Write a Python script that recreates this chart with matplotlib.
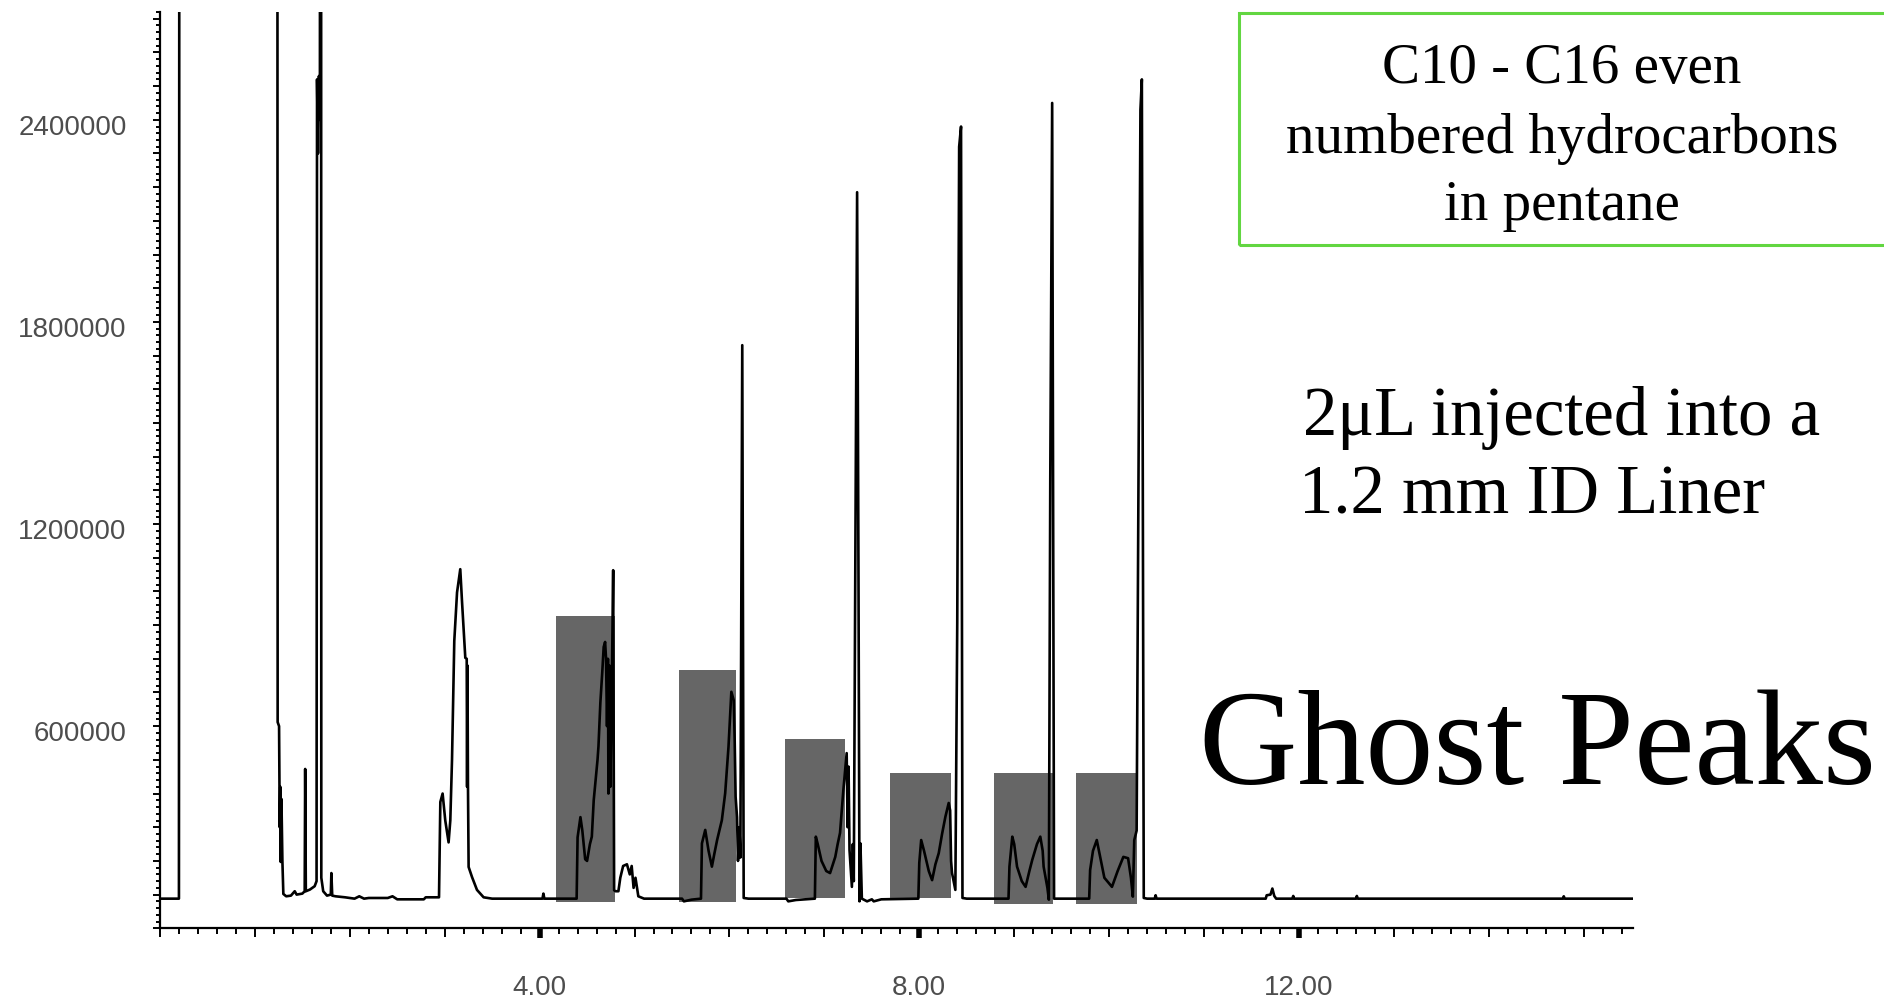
import numpy as np
import matplotlib.pyplot as plt
import matplotlib.ticker as ticker
import matplotlib.transforms as transforms
from matplotlib.patches import Rectangle

plt.rcParams['font.family'] = ['Liberation Sans', 'DejaVu Sans']

# retention time (min) of the detector trace
time = [0, 0.20, 0.21, 1.233, 1.24, 1.255, 1.262, 1.268, 1.272, 1.28, 1.29, 1.30,
        1.33, 1.38, 1.42, 1.44, 1.50, 1.525, 1.53, 1.537, 1.58, 1.63, 1.65, 1.655, 1.665, 1.675, 1.685,
        1.695, 1.70, 1.72, 1.76, 1.80, 1.806, 1.815, 1.85, 1.95, 2.05, 2.10, 2.15, 2.20, 2.40, 2.45,
        2.50, 2.78, 2.80, 2.94,
        2.954, 2.978, 3.006, 3.041, 3.059, 3.077, 3.101, 3.130, 3.164, 3.182, 3.217, 3.232, 3.236,
        3.240, 3.245, 3.252, 3.288, 3.340, 3.410, 3.5, 4.03, 4.04, 4.05,
        4.39, 4.40, 4.43, 4.45, 4.48, 4.50, 4.53, 4.55, 4.57, 4.59, 4.61, 4.62, 4.64, 4.66, 4.675,
        4.69, 4.70, 4.71, 4.72, 4.725, 4.735, 4.745, 4.76, 4.775, 4.785, 4.80, 4.83, 4.85, 4.88, 4.92,
        4.95, 4.97, 4.99, 5.01, 5.04, 5.10,
        5.50, 5.52, 5.60, 5.70, 5.71, 5.745, 5.78, 5.815, 5.84, 5.87, 5.92, 5.955, 5.99, 6.02, 6.045,
        6.055, 6.065, 6.08, 6.09, 6.105, 6.115, 6.125, 6.135, 6.15, 6.2,
        6.60, 6.62, 6.70, 6.90, 6.91, 6.93, 6.97, 7.02, 7.06, 7.09, 7.115, 7.14, 7.165, 7.20, 7.235,
        7.245, 7.255, 7.265, 7.29, 7.30, 7.31, 7.325, 7.345, 7.36, 7.37, 7.38, 7.395, 7.45, 7.50, 7.52,
        7.60, 7.99, 8.00, 8.02, 8.05, 8.10, 8.135, 8.17, 8.205, 8.24, 8.275, 8.31, 8.325, 8.335, 8.345,
        8.38, 8.40, 8.42, 8.44, 8.455, 8.50,
        8.94, 8.95, 8.98, 9.00, 9.03, 9.08, 9.12, 9.16, 9.19, 9.24, 9.275, 9.30, 9.31, 9.35, 9.365,
        9.38, 9.40, 9.42, 9.50,
        9.79, 9.80, 9.83, 9.87, 9.90, 9.95, 10.03, 10.09, 10.15, 10.20, 10.23, 10.25, 10.265, 10.29,
        10.31, 10.33, 10.345, 10.365, 10.40,
        10.48, 10.49, 10.50, 11.65, 11.66, 11.70, 11.72, 11.74, 11.76, 11.93, 11.94, 11.95, 12.60,
        12.61, 12.62, 14.78, 14.79, 14.80, 15.52]

# abundance (counts)
abundance = [88000, 88000, 8e6, 8e6, 612000, 600000, 300000, 420000, 197000, 384000, 200000, 102000,
             95000, 97000, 110000, 100000, 103000, 110000, 473000, 110000, 115000, 125000, 140000, 2520000,
             2300000, 2530000, 2400000,
             8e6, 150000, 110000, 97000, 100000, 164000, 97000, 95000, 92000, 88000, 95000, 88000, 90000,
             90000, 95000, 86000, 86000, 92000, 92000,
             375000, 400000, 320000, 255000, 320000, 500000, 853000, 997000, 1066000, 972000, 803000,
             800000, 420000, 780000, 430000, 182000, 152000, 114000, 92000, 88000, 88000, 103000, 88000,
             88000, 270000, 330000, 290000, 205000, 200000, 250000, 272000, 380000, 440000, 500000, 540000,
             670000, 760000, 835000, 850000, 800000, 600000, 800000, 400000, 780000, 420000, 700000,
             1063000, 113000, 110000, 110000, 150000, 185000, 190000, 160000, 185000, 120000, 150000,
             95000, 88000,
             88000, 80000, 85000, 88000, 252000, 292000, 230000, 183000, 220000, 262000, 321000, 401000,
             539000, 702000, 677000, 560000, 390000, 330000, 200000, 300000, 210000, 953000, 1731000,
             90000, 88000,
             88000, 80000, 84000, 88000, 272000, 250000, 200000, 170000, 164000, 190000, 212000, 250000,
             283000, 410000, 520000, 300000, 480000, 232000, 123000, 250000, 140000, 1042000, 2185000,
             1000000, 80000, 252000, 88000, 80000, 86000, 80000,
             86000, 88000, 194000, 262000, 230000, 170000, 143000, 190000, 223000, 280000, 331000, 372000,
             350000, 200000, 164000, 114000, 906000, 2320000, 2380000, 90000, 88000,
             88000, 183000, 272000, 250000, 183000, 140000, 123000, 170000, 203000, 250000, 272000, 230000,
             183000, 120000, 85000, 1330000, 2450000, 88000, 88000,
             88000, 173000, 230000, 262000, 220000, 150000, 123000, 170000, 212000, 208000, 150000, 94000,
             262000, 290000, 1330000, 2430000, 2520000, 90000, 88000,
             88000, 98000, 88000, 88000, 98000, 100000, 118000, 96000, 88000, 88000, 96000, 88000, 88000,
             96000, 88000, 88000, 95000, 88000, 88000]

# shaded ghost peak windows
box_start = [4.177, 5.465, 6.589, 7.695, 8.784, 9.655]
box_end = [4.798, 6.073, 7.221, 8.335, 9.410, 10.295]
box_top = [926600, 766400, 561700, 461700, 461700, 461700]
box_bottom = [79000, 79000, 89000, 90000, 72100, 72100]

fig = plt.figure(figsize=(18.84, 10), dpi=100)
ax = fig.add_axes([0.0849, 0.0717, 0.7819, 0.9163])

ax.bar(box_start, np.subtract(box_top, box_bottom), width=np.subtract(box_end, box_start),
       bottom=box_bottom, align='edge', color='#666666', zorder=1)
ax.plot(time, abundance, color='black', lw=1.9, zorder=2)

ax.set_xlim(0, 15.52)
ax.set_ylim(0, 2.72e6)

for s in ['top', 'right']:
    ax.spines[s].set_visible(False)
for s in ['left', 'bottom']:
    ax.spines[s].set_linewidth(1.6)

ax.xaxis.set_major_locator(ticker.MultipleLocator(1))
ax.xaxis.set_minor_locator(ticker.MultipleLocator(0.2))
ax.xaxis.set_major_formatter(ticker.FuncFormatter(
    lambda v, p: f'{v:.2f}' if v > 0 and round(v) % 4 == 0 else ''))
ax.yaxis.set_major_locator(ticker.MultipleLocator(100000))
ax.yaxis.set_minor_locator(ticker.MultipleLocator(20000))
ax.yaxis.set_major_formatter(ticker.FuncFormatter(
    lambda v, p: f'{int(round(v))}' if v > 0 and round(v / 100000) % 6 == 0 else ''))

ax.tick_params(axis='x', which='major', length=6.5, width=1.4, pad=27, labelsize=20, labelcolor='#4d4d4d')
ax.tick_params(axis='x', which='minor', length=4.5, width=1.4)
ax.tick_params(axis='y', which='major', length=5, width=1.4, pad=19, labelsize=20, labelcolor='#4d4d4d')
ax.tick_params(axis='y', which='minor', length=3, width=1.4)

for tick, loc in zip(ax.xaxis.get_major_ticks(), ax.get_xticks()):
    if loc > 0 and round(loc) % 4 == 0:
        tick.tick1line.set_markeredgewidth(4)
        tick.tick1line.set_markersize(7.5)

offset = transforms.ScaledTranslation(0, -5 / 100, fig.dpi_scale_trans)
for lab in ax.get_yticklabels():
    lab.set_transform(lab.get_transform() + offset)

# annotation box and texts
fig.add_artist(Rectangle((1239 / 1884, 1 - 245 / 1000), 700 / 1884, 232 / 1000, fill=False,
                         edgecolor='#62d641', lw=2.2, transform=fig.transFigure))
serif = 'Liberation Serif'
for line, base in zip(['C10 - C16 even', 'numbered hydrocarbons', 'in pentane'], [83, 153, 220]):
    fig.text(1562 / 1884, 1 - base / 1000, line, ha='center', va='baseline', fontsize=41, family=serif)
fig.text(1562 / 1884, 1 - 435 / 1000, '2μL injected into a', ha='center', va='baseline',
         fontsize=49.5, family=serif)
fig.text(1532 / 1884, 1 - 514 / 1000, '1.2 mm ID Liner', ha='center', va='baseline',
         fontsize=49.5, family=serif)
fig.text(1537 / 1884, 1 - 784 / 1000, 'Ghost Peaks', ha='center', va='baseline',
         fontsize=98, family=serif)

fig.savefig('out.png', dpi=100)
